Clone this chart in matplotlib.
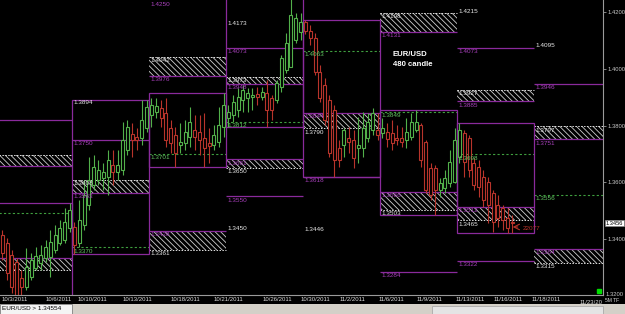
import numpy as np
import matplotlib
matplotlib.use("Agg")
import matplotlib.pyplot as plt
from matplotlib.patches import Rectangle

plt.rcParams['font.family'] = ['Liberation Sans', 'DejaVu Sans']
plt.rcParams['hatch.linewidth'] = 0.6

# EUR/USD 480 min candles, 16 slots per week, slot 0 = first candle of the 10/10 week
FIRST = -15
OPEN = [
    1.3413, 1.3385, 1.3343, 1.3318, 1.3262, 1.3230, 1.3265, 1.3297, 1.3315, 1.3332, 1.3336, 1.3361, 1.3385, 1.3396, 1.3438,
    1.3442, 1.3385, 1.3449, 1.3519, 1.3590, 1.3608, 1.3615, 1.3618, 1.3661, 1.3636, 1.3643, 1.3714, 1.3770, 1.3759, 1.3756, 1.3791,
    1.3837, 1.3848, 1.3862, 1.3844, 1.3791, 1.3767, 1.3731, 1.3738, 1.3759, 1.3784, 1.3777, 1.3756, 1.3738, 1.3731, 1.3742, 1.3795,
    1.3826, 1.3837, 1.3855, 1.3890, 1.3897, 1.3901, 1.3911, 1.3901, 1.3915, 1.3897, 1.3890, 1.3936, 1.3996, 1.4006, 1.4102, 1.4130,
    1.4165, 1.4134, 1.4109, 1.3989, 1.3943, 1.3890, 1.3855, 1.3721, 1.3731, 1.3756, 1.3749, 1.3721, 1.3721, 1.3756, 1.3784, 1.3784,
    1.3774, 1.3777, 1.3774, 1.3756, 1.3756, 1.3749, 1.3759, 1.3784, 1.3802, 1.3742, 1.3650, 1.3650, 1.3572, 1.3579, 1.3597, 1.3601,
    1.3689, 1.3774, 1.3756, 1.3668, 1.3654, 1.3618, 1.3601, 1.3562, 1.3519, 1.3509, 1.3474, 1.3459,
]
HIGH = [
    1.3431, 1.3403, 1.3361, 1.3332, 1.3290, 1.3368, 1.3350, 1.3371, 1.3378, 1.3396, 1.3431, 1.3449, 1.3466, 1.3509, 1.3526,
    1.3459, 1.3537, 1.3608, 1.3689, 1.3696, 1.3678, 1.3668, 1.3714, 1.3714, 1.3714, 1.3812, 1.3819, 1.3809, 1.3791, 1.3890, 1.3890,
    1.3897, 1.3897, 1.3890, 1.3897, 1.3819, 1.3795, 1.3809, 1.3819, 1.3865, 1.3837, 1.3837, 1.3844, 1.3791, 1.3802, 1.3865, 1.3915,
    1.3872, 1.3908, 1.3932, 1.3943, 1.3932, 1.3932, 1.3936, 1.3936, 1.3961, 1.3908, 1.3961, 1.4049, 1.4127, 1.4247, 1.4197, 1.4197,
    1.4172, 1.4155, 1.4127, 1.4014, 1.3968, 1.3908, 1.3872, 1.3749, 1.3791, 1.3795, 1.3784, 1.3830, 1.3848, 1.3844, 1.3862, 1.3844,
    1.3826, 1.3809, 1.3819, 1.3802, 1.3795, 1.3826, 1.3844, 1.3855, 1.3809, 1.3749, 1.3668, 1.3661, 1.3615, 1.3643, 1.3714, 1.3791,
    1.3809, 1.3784, 1.3767, 1.3685, 1.3678, 1.3643, 1.3618, 1.3572, 1.3555, 1.3519, 1.3509, 1.3484,
]
LOW = [
    1.3325, 1.3255, 1.3209, 1.3188, 1.3191, 1.3219, 1.3255, 1.3290, 1.3290, 1.3318, 1.3265, 1.3350, 1.3378, 1.3385, 1.3424,
    1.3347, 1.3371, 1.3431, 1.3502, 1.3572, 1.3590, 1.3572, 1.3555, 1.3590, 1.3608, 1.3625, 1.3696, 1.3689, 1.3714, 1.3731, 1.3777,
    1.3795, 1.3826, 1.3795, 1.3724, 1.3703, 1.3654, 1.3703, 1.3714, 1.3724, 1.3714, 1.3696, 1.3654, 1.3668, 1.3714, 1.3724, 1.3759,
    1.3795, 1.3812, 1.3830, 1.3848, 1.3848, 1.3855, 1.3872, 1.3890, 1.3795, 1.3819, 1.3879, 1.3918, 1.3985, 1.4006, 1.4091, 1.4102,
    1.4123, 1.4084, 1.3978, 1.3883, 1.3802, 1.3689, 1.3618, 1.3654, 1.3689, 1.3703, 1.3650, 1.3668, 1.3689, 1.3742, 1.3767, 1.3749,
    1.3756, 1.3724, 1.3714, 1.3731, 1.3724, 1.3721, 1.3749, 1.3777, 1.3654, 1.3562, 1.3537, 1.3484, 1.3548, 1.3562, 1.3583, 1.3597,
    1.3668, 1.3618, 1.3618, 1.3572, 1.3548, 1.3512, 1.3456, 1.3424, 1.3442, 1.3431, 1.3421, 1.3421,
]
CLOSE = [
    1.3350, 1.3279, 1.3230, 1.3202, 1.3230, 1.3300, 1.3325, 1.3339, 1.3343, 1.3371, 1.3389, 1.3413, 1.3438, 1.3459, 1.3502,
    1.3378, 1.3466, 1.3555, 1.3608, 1.3654, 1.3643, 1.3636, 1.3678, 1.3636, 1.3661, 1.3749, 1.3795, 1.3749, 1.3749, 1.3819, 1.3865,
    1.3872, 1.3869, 1.3826, 1.3749, 1.3738, 1.3703, 1.3742, 1.3777, 1.3812, 1.3759, 1.3749, 1.3721, 1.3728, 1.3767, 1.3802, 1.3872,
    1.3848, 1.3883, 1.3901, 1.3925, 1.3915, 1.3908, 1.3901, 1.3918, 1.3855, 1.3855, 1.3950, 1.4038, 1.4091, 1.4190, 1.4179, 1.4165,
    1.4134, 1.4109, 1.3989, 1.3897, 1.3819, 1.3703, 1.3678, 1.3678, 1.3784, 1.3742, 1.3685, 1.3731, 1.3791, 1.3812, 1.3844, 1.3767,
    1.3791, 1.3752, 1.3738, 1.3749, 1.3742, 1.3777, 1.3812, 1.3812, 1.3678, 1.3572, 1.3555, 1.3572, 1.3597, 1.3615, 1.3671, 1.3749,
    1.3784, 1.3671, 1.3643, 1.3590, 1.3583, 1.3537, 1.3519, 1.3459, 1.3474, 1.3466, 1.3438, 1.3455,
]

# weekly levels, column c covers slots 16*(c-1) .. 16*c
PURPLE_COL = [0, 1, 2, 3, 3, 4, 5, 6, 6, 7]
PURPLE_PRICE = [1.3820, 1.3750, 1.4250, 1.4073, 1.3550, 1.3618, 1.3284, 1.4073, 1.3322, 1.3946]

GREEN_COL = [0, 1, 2, 3, 4, 5, 6, 7]
GREEN_PRICE = [1.3491, 1.3370, 1.3701, 1.3812, 1.4063, 1.3849, 1.3698, 1.3556]

ZONE_COL = [0, 0, 1, 2, 2, 3, 3, 4, 5, 5, 6, 6, 7, 7]
ZONE_HI = [1.3696, 1.3332, 1.3608, 1.4042, 1.3428, 1.3973, 1.3681, 1.3844, 1.4198, 1.3566, 1.3927, 1.3512, 1.3797, 1.3364]
ZONE_LO = [1.3657, 1.3290, 1.3563, 1.3976, 1.3361, 1.3948, 1.3650, 1.3790, 1.4131, 1.3503, 1.3885, 1.3465, 1.3751, 1.3315]
ZONE_UPPER = [True, False, True, True, False, True, False, False, True, False, True, False, True, False]

WHITE_COL = [1, 3, 3, 4, 6, 7]
WHITE_PRICE = [1.3894, 1.4173, 1.3450, 1.3446, 1.4215, 1.4095]

DATE_POS = [-12, -2.8, 4.2, 13.6, 23.6, 32.6, 42.7, 50.6, 58.3, 66.3, 74.2, 82.8, 90.6, 98.5]
DATE_LABELS = ["10/3/2011", "10/6/2011", "10/10/2011", "10/13/2011", "10/18/2011", "10/21/2011",
               "10/26/2011", "10/30/2011", "11/2/2011", "11/6/2011", "11/9/2011", "11/13/2011",
               "11/16/2011", "11/18/2011"]

LAST_PRICE = 1.3456

PURPLE = "#8a2a9c"
PURPLE_TXT = "#a840bc"
GREEN_DASH = "#3f9f3f"
GREEN_TXT = "#63c463"
WHITE_TXT = "#e8e8e8"
UP = "#52b04a"
DOWN = "#b8342b"
FS = 4.6
YMIN, YMAX = 1.3202, 1.4243

fig = plt.figure(figsize=(6.25, 3.14), dpi=100, facecolor="black")
ax = fig.add_axes([0, 19 / 314, 603 / 625, 295 / 314], facecolor="black")
ax.set_xlim(-72 / 4.8125, 531 / 4.8125)
ax.set_ylim(YMIN, YMAX)


def span(c):
    return 16 * (c - 1), 16 * c


def label(c, p, color):
    if c == 0:
        return
    ax.annotate(f"{p:.4f}", (span(c)[0], min(p, YMAX - 0.0004)), xytext=(1.4, -0.9),
                textcoords="offset points", ha="left", va="top", fontsize=FS, color=color,
                annotation_clip=False, zorder=6)


# hatched zones
for c, hi, lo, upper in zip(ZONE_COL, ZONE_HI, ZONE_LO, ZONE_UPPER):
    x0, x1 = span(c)
    ax.add_patch(Rectangle((x0, lo), 16, hi - lo, facecolor="none", edgecolor="#cfcfcf",
                           hatch="\\" * 6, lw=0, zorder=1.5))
    if upper:
        ax.hlines(hi, x0, x1, color="#e0e0e0", lw=0.7, linestyles=(0, (1.5, 1.5)), zorder=2)
        ax.hlines(lo, x0, x1, color=PURPLE, lw=0.9, zorder=2)
        label(c, hi, WHITE_TXT)
        label(c, lo, PURPLE_TXT)
    else:
        ax.hlines(hi, x0, x1, color=PURPLE, lw=0.9, zorder=2)
        ax.hlines(lo, x0, x1, color="#e0e0e0", lw=0.7, linestyles=(0, (1.5, 1.5)), zorder=2)
        label(c, hi, PURPLE_TXT)
        label(c, lo, WHITE_TXT)

for c, p in zip(PURPLE_COL, PURPLE_PRICE):
    x0, x1 = span(c)
    ax.hlines(p, x0, x1, color=PURPLE, lw=0.9, zorder=2)
    label(c, p, PURPLE_TXT)

for c, p in zip(GREEN_COL, GREEN_PRICE):
    x0, x1 = span(c)
    ax.hlines(p, x0, x1, color=GREEN_DASH, lw=0.8, linestyles=(0, (2, 2)), zorder=2)
    label(c, p, GREEN_TXT)

for c, p in zip(WHITE_COL, WHITE_PRICE):
    label(c, p, WHITE_TXT)

# candles
o = np.array(OPEN)
h = np.array(HIGH)
l = np.array(LOW)
cl = np.array(CLOSE)
slot = np.arange(len(o)) + FIRST
xc = slot + 0.5
colors = np.where(cl >= o, UP, DOWN)

# weekly range boxes
for c in range(7):
    x0, x1 = span(c)
    m = (slot >= x0) & (slot < x1)
    hi, lo = h[m].max(), l[m].min()
    ax.add_patch(Rectangle((x0, lo), 16, hi - lo, fill=False, edgecolor=PURPLE, lw=0.9, zorder=2.5))

ax.vlines(xc, l, h, colors=colors, lw=0.8, zorder=3)
ax.bar(xc, np.maximum(np.abs(cl - o), 0.00012), bottom=np.minimum(o, cl), width=0.62,
       facecolor="black", edgecolor=colors, lw=0.8, zorder=4)

ax.text(66.7, 1.4049, "EUR/USD", color="white", fontsize=5.6, fontweight="bold", va="center", zorder=6)
ax.text(66.7, 1.4017, "480 candle", color="white", fontsize=5.6, fontweight="bold", va="center", zorder=6)

ax.annotate("", xy=(91.0, 1.3442), xytext=(93.2, 1.3442),
            arrowprops=dict(arrowstyle="->", color=DOWN, lw=0.8), zorder=6)
ax.text(93.6, 1.3436, "22077", color=DOWN, fontsize=FS, va="center", zorder=6)

ax.plot(0.993, 0.012, "s", color="#00dd00", ms=3, transform=ax.transAxes, clip_on=False)

# axes styling
for side in ["left", "top"]:
    ax.spines[side].set_visible(False)
for side in ["right", "bottom"]:
    ax.spines[side].set_color("#9a9a9a")
    ax.spines[side].set_linewidth(0.8)

ax.yaxis.tick_right()
yt = [1.34, 1.36, 1.38, 1.40, 1.42]
ax.set_yticks(yt, [f"{v:.4f}" for v in yt])
ax.tick_params(axis="y", colors="#9a9a9a", labelcolor="#c8c8c8", labelsize=4.2, length=2, width=0.6, pad=1)
ax.set_xticks(DATE_POS, DATE_LABELS)
ax.tick_params(axis="x", colors="#9a9a9a", labelcolor="#dddddd", labelsize=4.3, length=0, pad=1.5)
ax.text(1.0, -0.018, "11/23/20", transform=ax.transAxes, ha="right", va="top",
        fontsize=4.3, color="#dddddd")
ax.text(1.005, 0.0, "1.3200", transform=ax.transAxes, ha="left", va="center",
        fontsize=4.2, color="#c8c8c8")

ax.annotate(f"{LAST_PRICE:.4f}", (1, LAST_PRICE), xycoords=("axes fraction", "data"),
            xytext=(2.2, 0), textcoords="offset points", ha="left", va="center", fontsize=4.1,
            color="black", annotation_clip=False,
            bbox=dict(boxstyle="square,pad=0.12", facecolor="white", edgecolor="#888888", lw=0.5))

# status bar
fig.add_artist(Rectangle((0, 0), 1, 10 / 314, transform=fig.transFigure,
                         facecolor="#d4d0c8", edgecolor="none"))
fig.add_artist(Rectangle((0, 0), 72 / 625, 10 / 314, transform=fig.transFigure,
                         facecolor="#f4f4f4", edgecolor="#808080", lw=0.6))
fig.add_artist(Rectangle((432 / 625, 0.5 / 314), 171 / 625, 8 / 314, transform=fig.transFigure,
                         facecolor="#e4e4e4", edgecolor="#a0a0a0", lw=0.5))
fig.text(2 / 625, 5 / 314, "EUR/USD > 1.34554", fontsize=FS, color="black", va="center")
fig.text(605 / 625, 13 / 314, "5M TF", fontsize=3.6, color="#dddddd", va="center")

fig.savefig("out.png", dpi=100, facecolor="black")
